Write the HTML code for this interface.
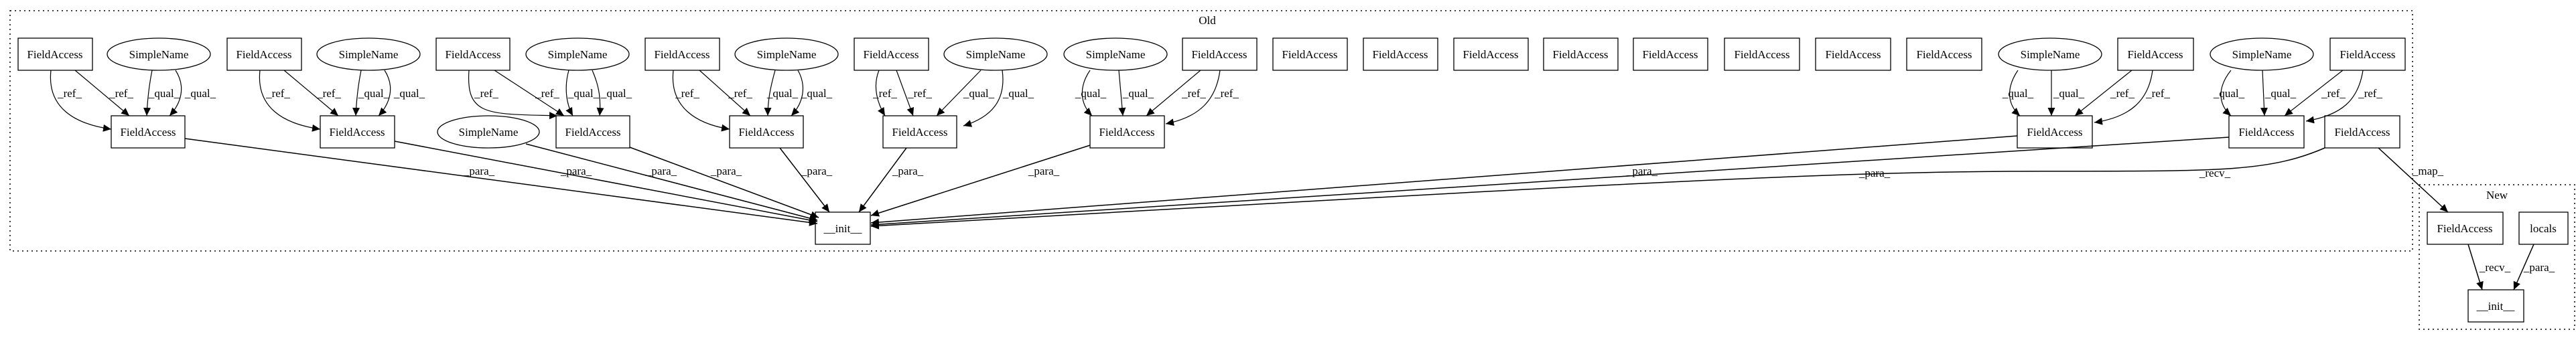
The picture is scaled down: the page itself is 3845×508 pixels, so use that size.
<!DOCTYPE html>
<html><head><meta charset="utf-8"><style>
html,body{margin:0;padding:0;background:#fff;}
svg{display:block;}
text{font-family:"Liberation Serif",serif;font-size:17px;fill:#000;}
</style></head><body>
<svg width="3845" height="508" viewBox="0 0 3845 508" xmlns="http://www.w3.org/2000/svg">
<defs>
<marker id="a" markerUnits="userSpaceOnUse" markerWidth="13" markerHeight="11" refX="12" refY="5.5" orient="auto">
<path d="M0,0 L12,5.5 L0,11 Z" fill="#000"/></marker>
</defs>
<g fill="none" stroke="#000" stroke-width="1.5" stroke-dasharray="2,5">
<rect x="15" y="16" width="3586" height="359"/>
<rect x="3611" y="276" width="232" height="216"/>
</g>
<text x="1802" y="36" text-anchor="middle">Old</text>
<text x="3727" y="297" text-anchor="middle">New</text>

<g fill="#fff" stroke="#000" stroke-width="1.3">
<!-- row1 -->
<rect x="27" y="57" width="111" height="48"/>
<ellipse cx="237" cy="81" rx="77" ry="24"/>
<rect x="339" y="57" width="111" height="48"/>
<ellipse cx="550" cy="81" rx="77" ry="24"/>
<rect x="651" y="57" width="110" height="48"/>
<ellipse cx="862" cy="81" rx="77" ry="24"/>
<rect x="963" y="57" width="111" height="48"/>
<ellipse cx="1174" cy="81" rx="77" ry="24"/>
<rect x="1275" y="57" width="111" height="48"/>
<ellipse cx="1486" cy="81" rx="77" ry="24"/>
<ellipse cx="1665" cy="81" rx="77" ry="24"/>
<rect x="1765" y="57" width="111" height="48"/>
<rect x="1900" y="57" width="111" height="48"/>
<rect x="2035" y="57" width="111" height="48"/>
<rect x="2170" y="57" width="111" height="48"/>
<rect x="2304" y="57" width="111" height="48"/>
<rect x="2438" y="57" width="111" height="48"/>
<rect x="2574" y="57" width="112" height="48"/>
<rect x="2710" y="57" width="112" height="48"/>
<rect x="2846" y="57" width="112" height="48"/>
<ellipse cx="3060" cy="81" rx="77" ry="24"/>
<rect x="3161" y="57" width="113" height="48"/>
<ellipse cx="3376" cy="81" rx="77" ry="24"/>
<rect x="3478" y="57" width="112" height="48"/>
<!-- row2 -->
<rect x="166" y="173" width="110" height="48"/>
<rect x="478" y="173" width="111" height="48"/>
<ellipse cx="729" cy="197" rx="76" ry="24"/>
<rect x="830" y="173" width="110" height="48"/>
<rect x="1089" y="173" width="110" height="48"/>
<rect x="1318" y="173" width="110" height="48"/>
<rect x="1627" y="173" width="111" height="48"/>
<rect x="3011" y="173" width="112" height="48"/>
<rect x="3327" y="173" width="112" height="48"/>
<rect x="3470" y="173" width="112" height="48"/>
<rect x="1217" y="317" width="82" height="48"/>
<rect x="3623" y="317" width="113" height="48"/>
<rect x="3760" y="317" width="73" height="48"/>
<rect x="3684" y="433" width="83" height="48"/>
</g>

<g text-anchor="middle">
<text x="82" y="87">FieldAccess</text><text x="237" y="87">SimpleName</text>
<text x="394" y="87">FieldAccess</text><text x="550" y="87">SimpleName</text>
<text x="706" y="87">FieldAccess</text><text x="862" y="87">SimpleName</text>
<text x="1018" y="87">FieldAccess</text><text x="1174" y="87">SimpleName</text>
<text x="1330" y="87">FieldAccess</text><text x="1486" y="87">SimpleName</text>
<text x="1665" y="87">SimpleName</text><text x="1820" y="87">FieldAccess</text>
<text x="1955" y="87">FieldAccess</text><text x="2090" y="87">FieldAccess</text>
<text x="2225" y="87">FieldAccess</text><text x="2359" y="87">FieldAccess</text>
<text x="2493" y="87">FieldAccess</text><text x="2630" y="87">FieldAccess</text>
<text x="2766" y="87">FieldAccess</text><text x="2902" y="87">FieldAccess</text>
<text x="3060" y="87">SimpleName</text><text x="3217" y="87">FieldAccess</text>
<text x="3376" y="87">SimpleName</text><text x="3534" y="87">FieldAccess</text>
<text x="221" y="203">FieldAccess</text><text x="533" y="203">FieldAccess</text>
<text x="729" y="203">SimpleName</text><text x="885" y="203">FieldAccess</text>
<text x="1144" y="203">FieldAccess</text><text x="1373" y="203">FieldAccess</text>
<text x="1682" y="203">FieldAccess</text><text x="3067" y="203">FieldAccess</text>
<text x="3383" y="203">FieldAccess</text><text x="3526" y="203">FieldAccess</text>
<text x="1258" y="347">__init__</text>
<text x="3679" y="347">FieldAccess</text><text x="3796" y="347">locals</text>
<text x="3725" y="463">__init__</text>
</g>

<g fill="none" stroke="#000" stroke-width="1.2" marker-end="url(#a)">
<!-- group1 -->
<path d="M76,105 C70,160 110,185 166,193"/>
<path d="M112,105 L193,173"/>
<path d="M227,105 C222,130 220,150 219,173"/>
<path d="M262,105 C278,130 270,155 253,173"/>
<!-- group2 -->
<path d="M388,105 C382,160 422,185 478,193"/>
<path d="M424,105 L505,173"/>
<path d="M539,105 C534,130 532,150 531,173"/>
<path d="M574,105 C590,130 582,155 565,173"/>
<!-- group3 -->
<path d="M700,105 C695,175 730,170 832,173"/>
<path d="M738,105 L842,173"/>
<path d="M849,105 C842,130 845,155 855,173"/>
<path d="M884,105 C895,130 897,150 895,173"/>
<!-- group4 -->
<path d="M1005,105 C999,160 1039,185 1089,193"/>
<path d="M1044,105 L1120,173"/>
<path d="M1157,105 C1150,130 1146,150 1146,173"/>
<path d="M1191,105 C1205,130 1198,155 1181,173"/>
<!-- group5 -->
<path d="M1312,105 C1302,130 1310,155 1321,173"/>
<path d="M1338,105 L1363,173"/>
<path d="M1464,105 L1398,173"/>
<path d="M1496,105 C1502,150 1480,175 1438,188"/>
<!-- group6 -->
<path d="M1627,105 C1610,130 1612,155 1630,173"/>
<path d="M1670,105 L1676,173"/>
<path d="M1792,105 L1711,173"/>
<path d="M1821,105 C1815,150 1790,175 1740,185"/>
<!-- group7 -->
<path d="M3012,105 C2995,130 2995,155 3015,173"/>
<path d="M3062,105 L3062,173"/>
<path d="M3182,105 L3097,173"/>
<path d="M3213,105 C3207,150 3180,175 3126,183"/>
<!-- group8 -->
<path d="M3330,105 C3310,130 3310,155 3330,173"/>
<path d="M3377,105 L3380,173"/>
<path d="M3497,105 L3410,173"/>
<path d="M3527,105 C3520,150 3495,172 3442,181"/>
</g>
<g fill="none" stroke="#000" stroke-width="1.5" marker-end="url(#a)">
<path d="M276,207 L1220,334"/>
<path d="M589,211 L1220,331"/>
<path d="M785,215 L1220,329"/>
<path d="M940,220 L1222,325"/>
<path d="M1164,221 L1238,317"/>
<path d="M1353,221 L1282,317"/>
<path d="M1627,217 L1300,322"/>
<path d="M3011,203 L1300,333"/>
<path d="M3327,205 L1300,336"/>
<path d="M3470,221 C3380,260 3300,255 3000,256 C2700,258 2400,275 1300,338"/>
<path d="M3550,221 L3654,317"/>
<path d="M3684,365 L3705,433"/>
<path d="M3782,365 L3752,433"/>
</g>

<g text-anchor="middle">
<text x="104" y="145">_ref_</text><text x="181" y="145">_ref_</text>
<text x="245" y="145">_qual_</text><text x="299" y="145">_qual_</text>
<text x="415" y="145">_ref_</text><text x="491" y="145">_ref_</text>
<text x="558" y="145">_qual_</text><text x="611" y="145">_qual_</text>
<text x="726" y="145">_ref_</text><text x="817" y="145">_ref_</text>
<text x="871" y="145">_qual_</text><text x="920" y="145">_qual_</text>
<text x="1026" y="145">_ref_</text><text x="1105" y="145">_ref_</text>
<text x="1168" y="145">_qual_</text><text x="1219" y="145">_qual_</text>
<text x="1321" y="145">_ref_</text><text x="1373" y="145">_ref_</text>
<text x="1461" y="145">_qual_</text><text x="1520" y="145">_qual_</text>
<text x="1628" y="145">_qual_</text><text x="1699" y="145">_qual_</text>
<text x="1782" y="145">_ref_</text><text x="1831" y="145">_ref_</text>
<text x="3012" y="145">_qual_</text><text x="3088" y="145">_qual_</text>
<text x="3168" y="145">_ref_</text><text x="3221" y="145">_ref_</text>
<text x="3327" y="145">_qual_</text><text x="3404" y="145">_qual_</text>
<text x="3483" y="145">_ref_</text><text x="3538" y="145">_ref_</text>
<text x="715" y="261">_para_</text><text x="860" y="261">_para_</text>
<text x="987" y="261">_para_</text><text x="1084" y="261">_para_</text>
<text x="1219" y="261">_para_</text><text x="1355" y="261">_para_</text>
<text x="1558" y="261">_para_</text><text x="2451" y="261">_para_</text>
<text x="2798" y="264">_para_</text><text x="3306" y="264">_recv_</text>
<text x="3624" y="261">_map_</text>
<text x="3724" y="405">_recv_</text><text x="3790" y="405">_para_</text>
</g>
</svg>
</body></html>
